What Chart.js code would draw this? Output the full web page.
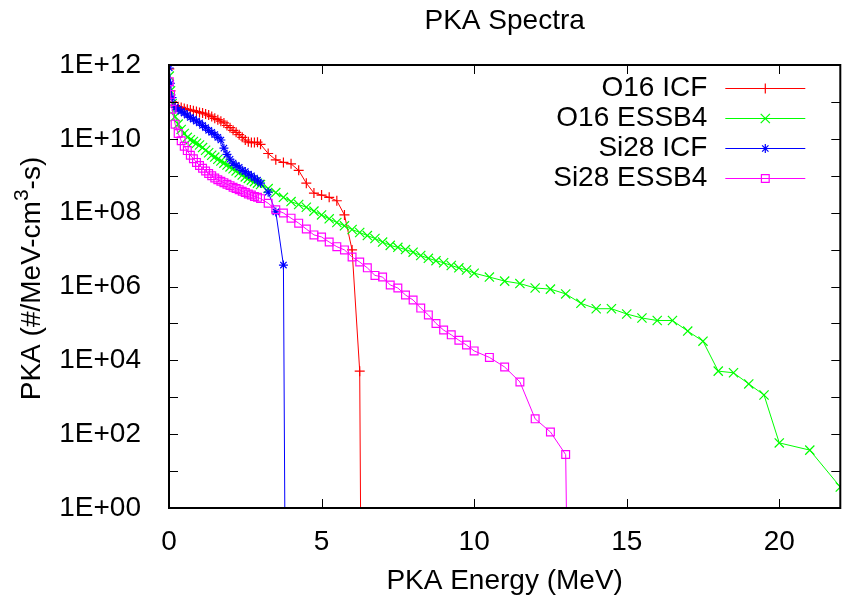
<!DOCTYPE html>
<html>
<head>
<meta charset="utf-8">
<script src="https://cdn.jsdelivr.net/npm/chart.js@4/dist/chart.umd.min.js"></script>
<style>
  html, body { margin: 0; padding: 0; background: #fff; }
</style>
</head>
<body>
<canvas id="canvas" width="848" height="601"></canvas>
<script>
// energy grids (MeV)
const eLow = [0.01, 0.05, 0.1, 0.2, 0.3, 0.4, 0.5, 0.6, 0.7, 0.8, 0.9, 1.0, 1.1, 1.2, 1.3, 1.4,
              1.5, 1.6, 1.7, 1.8, 1.9, 2.0, 2.1, 2.2, 2.3, 2.4, 2.5, 2.6, 2.7, 2.8, 2.9, 3.0];
const eMid = [3.25, 3.5, 3.75, 4.0, 4.25, 4.5, 4.75, 5.0, 5.25, 5.5, 5.75, 6.0, 6.25, 6.5,
              6.75, 7.0, 7.25, 7.5, 7.75, 8.0, 8.25, 8.5, 8.75, 9.0, 9.25, 9.5, 9.75, 10.0];
const eHighO16Essb = [10.5, 11, 11.5, 12, 12.5, 13, 13.5, 14, 14.5, 15, 15.5, 16, 16.5, 17,
                      17.5, 18, 18.5, 19, 19.5, 20, 21, 22];
const eHighSi28Essb = [10.5, 11, 11.5, 12, 12.5, 13, 13.5];
const eTailO16Icf = [3.25, 3.5, 3.75, 4.0, 4.25, 4.5, 4.75, 5.0, 5.25, 5.5, 5.75, 6.0, 6.25, 6.5];
const eTailSi28Icf = [3.25, 3.5, 3.75, 4.0];

// PKA spectra (#/MeV-cm^3-s)
const o16Icf = [7.9e11, 2.0e11, 1.0e11, 7.9e10, 7.4e10, 7.1e10, 6.6e10, 6.3e10, 6.0e10, 5.8e10, 5.5e10,
                5.2e10, 5.0e10, 4.7e10, 4.4e10, 4.0e10, 3.6e10, 3.3e10, 3.0e10, 2.7e10, 2.3e10, 2.0e10,
                1.7e10, 1.5e10, 1.3e10, 1.1e10, 9.3e9, 8.3e9, 7.9e9, 7.9e9, 8.1e9, 7.1e9,
                4.0e9, 2.7e9, 2.3e9, 2.1e9, 1.4e9, 6.3e8, 3.4e8, 3.0e8, 2.6e8, 2.1e8, 8.7e7, 9.8e6,
                5.1e3, 1e-30];
const o16Essb = [5.0e11, 2.0e11, 8.9e10, 4.0e10, 2.5e10, 1.8e10, 1.4e10, 1.1e10, 9.5e9, 8.5e9, 7.6e9,
                 6.8e9, 5.8e9, 4.9e9, 4.2e9, 3.6e9, 3.2e9, 2.8e9, 2.5e9, 2.2e9, 1.95e9, 1.74e9,
                 1.55e9, 1.35e9, 1.2e9, 1.05e9, 9.3e8, 8.5e8, 7.6e8, 6.9e8, 6.3e8, 5.8e8,
                 4.5e8, 3.5e8, 2.6e8, 2.0e8, 1.66e8, 1.4e8, 1.1e8, 8.7e7, 6.8e7, 5.4e7, 4.4e7, 3.5e7,
                 2.9e7, 2.4e7, 2.0e7, 1.6e7, 1.3e7, 1.15e7, 1.0e7, 8.5e6, 6.9e6, 5.8e6, 5.0e6, 4.4e6,
                 3.7e6, 3.2e6, 2.8e6, 2.3e6,
                 1.8e6, 1.4e6, 1.2e6, 9.1e5, 8.5e5, 6.3e5, 3.5e5, 2.5e5, 2.5e5, 1.8e5, 1.4e5, 1.2e5,
                 1.2e5, 6.2e4, 3.3e4, 5.1e3, 4.6e3, 2.3e3, 1.15e3, 58, 37, 3.7];
const si28Icf = [8.3e11, 3.2e11, 1.3e11, 7.1e10, 6.3e10, 5.6e10, 5.0e10, 4.4e10, 3.8e10, 3.4e10, 3.0e10,
                 2.7e10, 2.3e10, 2.0e10, 1.7e10, 1.5e10, 1.3e10, 1.1e10, 9.3e9, 5.6e9, 3.8e9, 2.8e9,
                 2.2e9, 1.9e9, 1.7e9, 1.4e9, 1.3e9, 1.1e9, 1.0e9, 8.7e8, 7.6e8, 6.3e8,
                 3.6e8, 1.05e8, 3.8e6, 1e-30];
const si28Essb = [3.5e11, 1.6e11, 6.3e10, 2.5e10, 1.4e10, 8.9e9, 6.3e9, 4.8e9, 3.6e9, 2.9e9, 2.3e9,
                  1.9e9, 1.6e9, 1.35e9, 1.15e9, 1.0e9, 8.7e8, 7.8e8, 7.1e8, 6.5e8, 5.9e8, 5.4e8,
                  4.9e8, 4.5e8, 4.2e8, 3.8e8, 3.5e8, 3.2e8, 3.0e8, 2.75e8, 2.6e8, 2.4e8,
                  1.8e8, 1.2e8, 9.8e7, 7.1e7, 5.2e7, 3.6e7, 2.5e7, 2.2e7, 1.6e7, 1.2e7, 9.8e6, 6.3e6,
                  4.6e6, 3.2e6, 2.0e6, 1.8e6, 1.1e6, 9.1e5, 5.9e5, 4.3e5, 2.6e5, 1.7e5, 1.0e5, 6.6e4,
                  4.9e4, 3.5e4, 2.6e4, 1.8e4,
                  1.2e4, 6.6e3, 2.6e3, 2.6e2, 1.15e2, 2.8e1, 1e-30];

const seriesNames = ['O16 ICF', 'O16 ESSB4', 'Si28 ICF', 'Si28 ESSB4'];
const seriesColors = ['#ff0000', '#00ff00', '#0000ff', '#ff00ff'];
const xTicks = [0, 5, 10, 15, 20];
const yLabelExp = [0, 2, 4, 6, 8, 10, 12];
const yTickExp = [0, 1, 2, 3, 4, 5, 6, 7, 8, 9, 10, 11, 12];

const FONT = "'Liberation Sans', Arial, Helvetica, sans-serif";
const FSIZE = 28;

function pairs(es, vs) {
    let pts = [];
    for (let i = 0; i < vs.length; i++) {
        pts.push({x: es[i], y: vs[i]});
    }
    return pts;
}

const energies = [
    eLow.concat(eTailO16Icf),
    eLow.concat(eMid, eHighO16Essb),
    eLow.concat(eTailSi28Icf),
    eLow.concat(eMid, eHighSi28Essb)
];
const values = [o16Icf, o16Essb, si28Icf, si28Essb];
const markers = [
    {style: 'cross', r: 5},
    {style: 'crossRot', r: 6.5},
    {style: 'star', r: 4.5},
    {style: 'rect', r: 5.5}
];

var datasets = [];
for (let i = 0; i < values.length; i++) {
    datasets.push({
        label: seriesNames[i],
        data: pairs(energies[i], values[i]),
        borderColor: seriesColors[i],
        backgroundColor: 'rgba(0,0,0,0)',
        borderWidth: 1,
        pointStyle: markers[i].style,
        pointRadius: markers[i].r,
        pointBorderWidth: 1.2,
        pointBorderColor: seriesColors[i],
        pointBackgroundColor: 'rgba(0,0,0,0)',
        tension: 0,
        order: values.length - i
    });
}

function drawMarker(c, style, r, x, y) {
    c.beginPath();
    if (style === 'cross' || style === 'star') {
        c.moveTo(x - r, y); c.lineTo(x + r, y);
        c.moveTo(x, y - r); c.lineTo(x, y + r);
    }
    if (style === 'crossRot' || style === 'star') {
        const d = r * Math.SQRT1_2;
        c.moveTo(x - d, y - d); c.lineTo(x + d, y + d);
        c.moveTo(x - d, y + d); c.lineTo(x + d, y - d);
    }
    if (style === 'rect') {
        const s = r * Math.SQRT1_2;
        c.rect(x - s, y - s, 2 * s, 2 * s);
    }
    c.stroke();
}

// gnuplot style frame: inward ticks on all sides, titles and key
const gnuFrame = {
    id: 'gnuFrame',
    afterDatasetsDraw(chart) {
        const c = chart.ctx;
        const a = chart.chartArea;
        const xs = chart.scales.x;
        const ys = chart.scales.y;
        c.save();
        c.strokeStyle = '#000';
        c.lineWidth = 1;
        c.beginPath();
        xTicks.forEach(v => {
            const px = Math.round(xs.getPixelForValue(v)) + 0.5;
            c.moveTo(px, a.bottom); c.lineTo(px, a.bottom - 9);
            c.moveTo(px, a.top); c.lineTo(px, a.top + 9);
        });
        yTickExp.forEach(e => {
            const py = Math.round(ys.getPixelForValue(Math.pow(10, e))) + 0.5;
            c.moveTo(a.left, py); c.lineTo(a.left + 9, py);
            c.moveTo(a.right, py); c.lineTo(a.right - 9, py);
        });
        c.stroke();
        c.lineWidth = 2;
        c.strokeRect(a.left, a.top, a.right - a.left, a.bottom - a.top);

        c.fillStyle = '#000';
        c.font = FSIZE + 'px ' + FONT;
        c.textAlign = 'center';
        c.textBaseline = 'middle';
        c.fillText('PKA Spectra', (a.left + a.right) / 2, 21);

        // y axis title with a superscript 3
        c.save();
        c.translate(30, (a.top + a.bottom) / 2 - 8);
        c.rotate(-Math.PI / 2);
        const partA = 'PKA (#/MeV-cm';
        const partB = '-s)';
        c.font = FSIZE + 'px ' + FONT;
        const wA = c.measureText(partA).width;
        const wB = c.measureText(partB).width;
        c.font = Math.round(FSIZE * 0.75) + 'px ' + FONT;
        const wS = c.measureText('3').width;
        const x0 = -(wA + wS + wB) / 2;
        c.textAlign = 'left';
        c.textBaseline = 'alphabetic';
        c.font = FSIZE + 'px ' + FONT;
        c.fillText(partA, x0, 10);
        c.fillText(partB, x0 + wA + wS, 10);
        c.font = Math.round(FSIZE * 0.75) + 'px ' + FONT;
        c.fillText('3', x0 + wA, 10 - FSIZE * 0.42);
        c.restore();

        // key
        c.font = FSIZE + 'px ' + FONT;
        c.textBaseline = 'middle';
        for (let i = 0; i < seriesNames.length; i++) {
            const ky = a.top + 23 + 30 * i;
            c.fillStyle = '#000';
            c.textAlign = 'right';
            c.fillText(seriesNames[i], a.right - 133, ky);
            c.strokeStyle = seriesColors[i];
            c.lineWidth = 1;
            c.beginPath();
            c.moveTo(a.right - 115, ky + 0.5);
            c.lineTo(a.right - 35, ky + 0.5);
            c.stroke();
            c.lineWidth = 1.2;
            drawMarker(c, markers[i].style, markers[i].r, a.right - 75, ky + 0.5);
        }
        c.restore();
    }
};

const ctx = document.getElementById('canvas').getContext('2d');
const pka_chart = new Chart(ctx, {
    type: 'line',
    data: {datasets: datasets},
    plugins: [gnuFrame],
    options: {
        responsive: false,
        animation: false,
        events: [],
        layout: {padding: {top: 65, right: 1, left: 0, bottom: 0}},
        plugins: {
            legend: {display: false},
            title: {display: false},
            tooltip: {enabled: false}
        },
        scales: {
            x: {
                type: 'linear',
                min: 0,
                max: 22,
                afterBuildTicks: s => { s.ticks = xTicks.map(v => ({value: v})); },
                afterFit: s => { s.height = 93; },
                grid: {display: false},
                border: {display: false},
                ticks: {color: '#000', font: {family: FONT, size: FSIZE}, padding: 9,
                        maxRotation: 0, autoSkip: false},
                title: {display: true, text: 'PKA Energy (MeV)', color: '#000',
                        font: {family: FONT, size: FSIZE}, padding: {top: 0, bottom: 3}}
            },
            y: {
                type: 'logarithmic',
                min: 1,
                max: 1e12,
                afterBuildTicks: s => { s.ticks = yLabelExp.map(e => ({value: Math.pow(10, e)})); },
                afterFit: s => { s.width = 169; },
                grid: {display: false},
                border: {display: false},
                ticks: {
                    color: '#000',
                    font: {family: FONT, size: FSIZE},
                    padding: 20,
                    autoSkip: false,
                    callback: v => '1E+' + String(Math.round(Math.log10(v))).padStart(2, '0')
                },
                title: {display: false}
            }
        }
    }
});
</script>
</body>
</html>
